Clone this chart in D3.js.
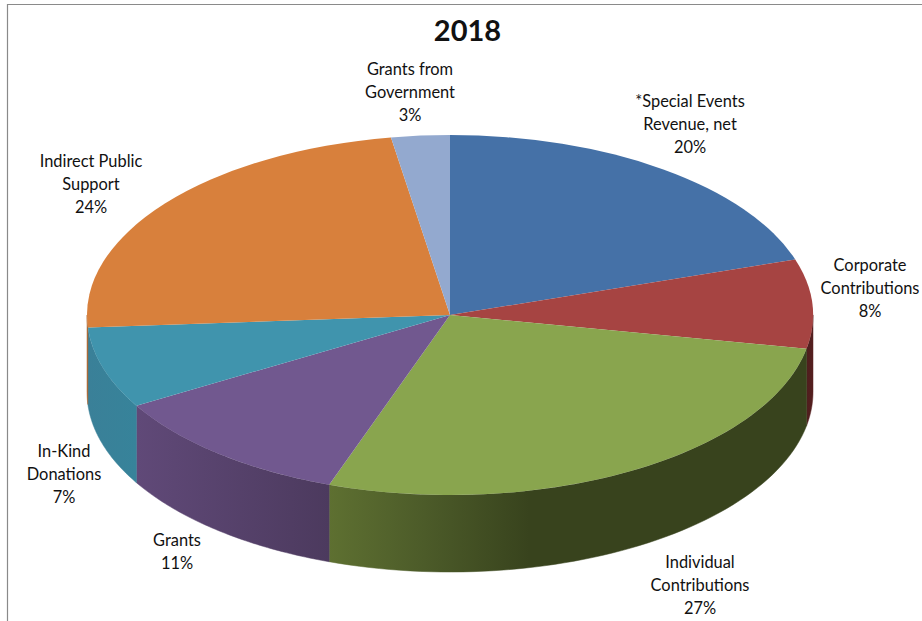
<!DOCTYPE html>
<html>
<head>
<meta charset="utf-8">
<script src="https://cdn.jsdelivr.net/npm/d3@7/dist/d3.min.js"></script>
<style>
  html, body { margin: 0; padding: 0; background: #fff; }
  svg { display: block; }
  text { font-family: Lato, "Open Sans", sans-serif; fill: #111; }
</style>
</head>
<body>
<svg id="chart" width="922" height="621"></svg>
<script>
// Revenue mix for 2018, share of total in percent
const categories = ["*Special Events Revenue, net", "Corporate Contributions", "Individual Contributions", "Grants", "In-Kind Donations", "Indirect Public Support", "Grants from Government"];
const shares = [20.0, 8.0, 27.4, 11.2, 7.3, 23.5, 2.6];
const labelLines = [["*Special Events", "Revenue, net"], ["Corporate", "Contributions"], ["Individual", "Contributions"], ["Grants"], ["In-Kind", "Donations"], ["Indirect Public", "Support"], ["Grants from", "Government"]];
const labelAnchors = [[690, 101], [870, 265], [700, 562], [177, 540], [64, 451], [91, 161], [410, 69]];
const topColors = ["#4571a7", "#a64442", "#89a54e", "#71588f", "#4094ad", "#d8803c", "#93a9cf"];
const wallStops = [
  [[0, "#2f4d72"], [1, "#2f4d72"]],
  [[0, "#4f1e1e"], [1, "#551f1f"]],
  [[0, "#5e7031"], [0.2, "#4c5b29"], [0.42, "#38431d"], [1, "#38431d"]],
  [[0, "#604978"], [1, "#4c3a5e"]],
  [[0, "#3a8098"], [1, "#37839a"]],
  [[0, "#a8632d"], [1, "#a8632d"]],
  [[0, "#6f80a0"], [1, "#6f80a0"]]
];
const title = "2018";

const cx = 450, cy = 315, rx = 363, ry = 180, depth = 77;
const svg = d3.select("#chart");

// Chart frame: only the top and left rules fall inside the page
svg.append("path")
  .attr("d", "M922,4.5H7.5V621")
  .attr("fill", "none").attr("stroke", "#8a8a8a").attr("stroke-width", 1.2);

// Clockwise angles from twelve o'clock, shared by the faces and the walls
const arcs = d3.pie().sort(null).value(d => d)(shares);

const px = a => cx + rx * Math.sin(a);
const py = a => cy - ry * Math.cos(a);

const defs = svg.append("defs");

// Front wall segments: only the part of the rim between 3 and 9 o'clock is visible
const wallArea = d3.area().x(a => px(a)).y0(a => py(a)).y1(a => py(a) + depth);
const walls = svg.append("g");
arcs.forEach((d, i) => {
  const a0 = Math.max(d.startAngle, Math.PI / 2);
  const a1 = Math.min(d.endAngle, 3 * Math.PI / 2);
  if (a1 <= a0) return;
  const id = "wall" + i;
  const grad = defs.append("linearGradient").attr("id", id)
    .attr("gradientUnits", "userSpaceOnUse")
    .attr("x1", Math.min(px(a0), px(a1))).attr("x2", Math.max(px(a0), px(a1)))
    .attr("y1", 0).attr("y2", 0);
  // Stops run left to right on the page
  wallStops[i].forEach(s => grad.append("stop").attr("offset", s[0]).attr("stop-color", s[1]));
  const samples = d3.range(0, 61).map(k => a0 + (a1 - a0) * k / 60);
  walls.append("path").attr("d", wallArea(samples)).attr("fill", `url(#${id})`)
    .attr("stroke", `url(#${id})`).attr("stroke-width", 0.5);
});

// Top face: a circular pie flattened into the ellipse
const arcGen = d3.arc().innerRadius(0).outerRadius(rx);
svg.append("g")
  .attr("transform", `translate(${cx},${cy}) scale(1,${ry / rx})`)
  .selectAll("path").data(arcs).join("path")
  .attr("d", arcGen)
  .attr("fill", (d, i) => topColors[i]);

// Title
svg.append("text").attr("x", 467.5).attr("y", 41)
  .attr("text-anchor", "middle")
  .style("font-size", "29px").style("font-weight", 700)
  .text(title);

// Data labels: category lines followed by the rounded share
const lineStep = 23.3;
const labels = svg.append("g").style("font-size", "16.4px").attr("text-anchor", "middle");
categories.forEach((c, i) => {
  const [x, y] = labelAnchors[i];
  const lines = [...labelLines[i], Math.round(shares[i]) + "%"];
  const t = labels.append("text").attr("aria-label", c);
  lines.forEach((s, j) => {
    t.append("tspan").attr("x", x).attr("y", y + j * lineStep).attr("dy", "0.35em").text(s);
  });
});
</script>
</body>
</html>
